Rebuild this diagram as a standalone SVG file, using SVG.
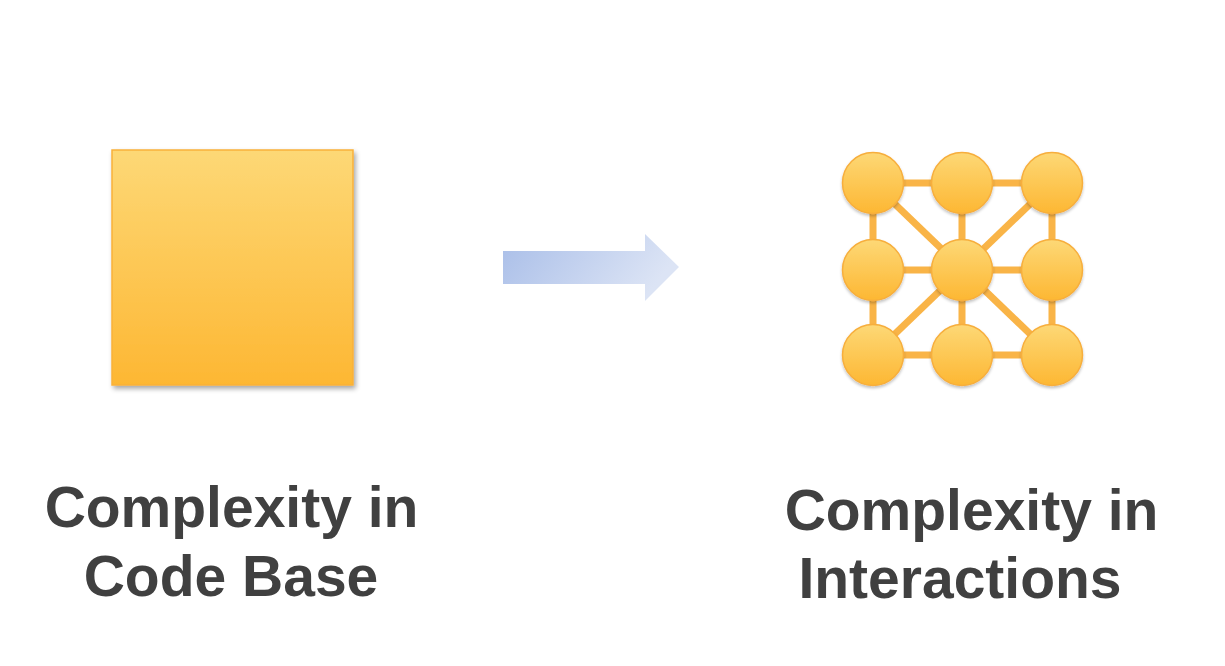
<svg xmlns="http://www.w3.org/2000/svg" width="1225" height="666" viewBox="0 0 1225 666">
<defs>
<linearGradient id="og" x1="0" y1="0" x2="0" y2="1">
<stop offset="0" stop-color="#FDD876"/>
<stop offset="1" stop-color="#FDB733"/>
</linearGradient>
<linearGradient id="bg" x1="0" y1="0" x2="1" y2="0.3">
<stop offset="0" stop-color="#A9BEE8"/>
<stop offset="1" stop-color="#DCE4F5"/>
</linearGradient>
<filter id="sh" x="-10%" y="-10%" width="130%" height="130%">
<feGaussianBlur in="SourceAlpha" stdDeviation="2.5"/>
<feOffset dx="2" dy="3" result="b"/>
<feComponentTransfer><feFuncA type="linear" slope="0.35"/></feComponentTransfer>
<feMerge><feMergeNode/><feMergeNode in="SourceGraphic"/></feMerge>
</filter>
<filter id="csh" x="-20%" y="-20%" width="140%" height="140%">
<feGaussianBlur in="SourceAlpha" stdDeviation="1.5"/>
<feOffset dx="0" dy="2" result="b"/>
<feComponentTransfer><feFuncA type="linear" slope="0.25"/></feComponentTransfer>
<feMerge><feMergeNode/><feMergeNode in="SourceGraphic"/></feMerge>
</filter>
</defs>
<style>
.lbl{font-family:"Liberation Sans",Arial,sans-serif;font-weight:bold;font-size:57px;fill:#404040;text-anchor:middle}
.nd{fill:url(#og);stroke:#F7AE3C;stroke-width:1.5}
.ed{stroke:#F9B447;stroke-width:7;fill:none}
</style>
<rect width="1225" height="666" fill="#FFFFFF"/>
<g id="codebase">
<rect x="112" y="150" width="241" height="235" fill="url(#og)" stroke="#F9B13A" stroke-width="1.5" filter="url(#sh)"/>
</g>
<g id="arrow">
<path d="M503,251 L645,251 L645,234 L679,267 L645,301 L645,284 L503,284 Z" fill="url(#bg)"/>
</g>
<g id="connectors">
<line class="ed" x1="873" y1="183" x2="1052" y2="183"/>
<line class="ed" x1="873" y1="270" x2="1052" y2="270"/>
<line class="ed" x1="873" y1="355" x2="1052" y2="355"/>
<line class="ed" x1="873" y1="183" x2="873" y2="355"/>
<line class="ed" x1="962" y1="183" x2="962" y2="355"/>
<line class="ed" x1="1052" y1="183" x2="1052" y2="355"/>
<line class="ed" x1="873" y1="183" x2="1052" y2="355"/>
<line class="ed" x1="1052" y1="183" x2="873" y2="355"/>
</g>
<g id="n11"><circle class="nd" cx="873" cy="183" r="30.5" filter="url(#csh)"/></g>
<g id="n12"><circle class="nd" cx="962" cy="183" r="30.5" filter="url(#csh)"/></g>
<g id="n13"><circle class="nd" cx="1052" cy="183" r="30.5" filter="url(#csh)"/></g>
<g id="n21"><circle class="nd" cx="873" cy="270" r="30.5" filter="url(#csh)"/></g>
<g id="n22"><circle class="nd" cx="962" cy="270" r="30.5" filter="url(#csh)"/></g>
<g id="n23"><circle class="nd" cx="1052" cy="270" r="30.5" filter="url(#csh)"/></g>
<g id="n31"><circle class="nd" cx="873" cy="355" r="30.5" filter="url(#csh)"/></g>
<g id="n32"><circle class="nd" cx="962" cy="355" r="30.5" filter="url(#csh)"/></g>
<g id="n33"><circle class="nd" cx="1052" cy="355" r="30.5" filter="url(#csh)"/></g>
<g id="label-left">
<text class="lbl" x="231.5" y="527">Complexity in</text>
<text class="lbl" x="231" y="596">Code Base</text>
</g>
<g id="label-right">
<text class="lbl" x="971.5" y="530">Complexity in</text>
<text class="lbl" x="960" y="598">Interactions</text>
</g>
</svg>
